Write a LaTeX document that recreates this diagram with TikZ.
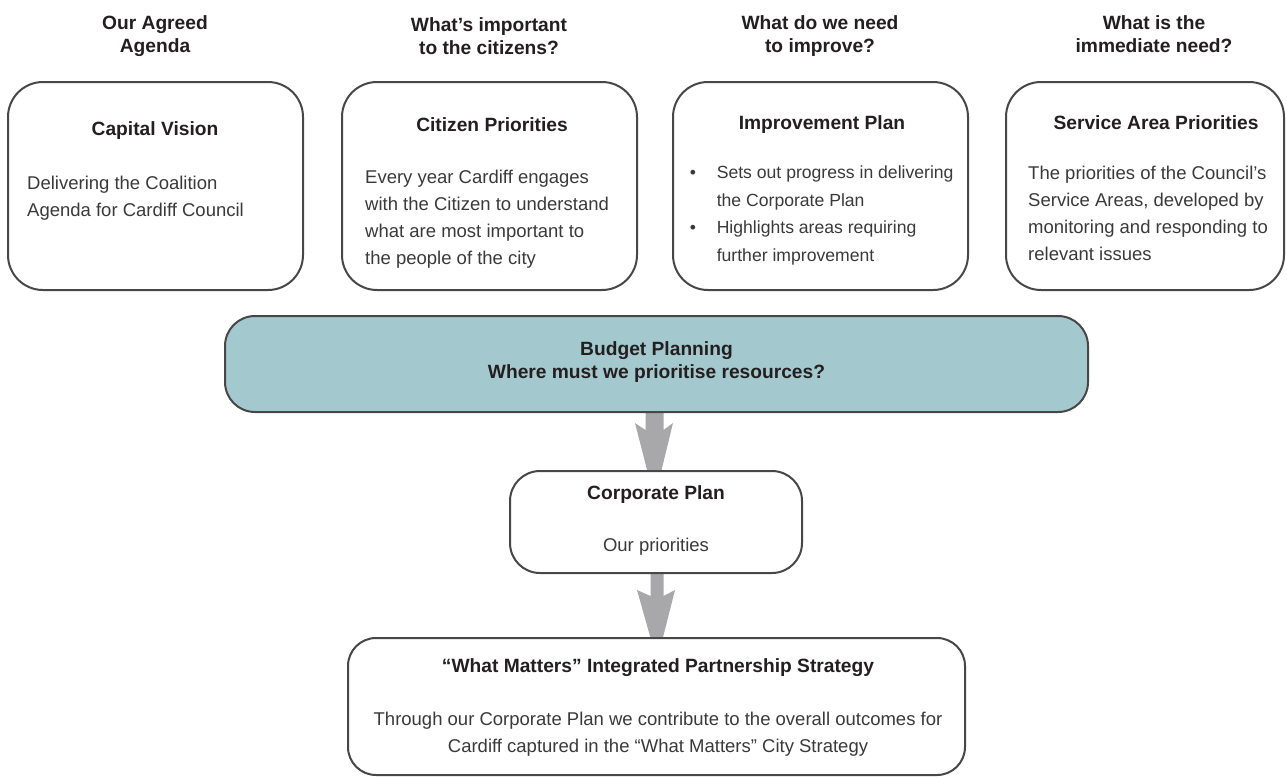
\documentclass[tikz,border=0pt]{standalone}
\usepackage{fontspec}
\setmainfont{Liberation Sans}
\usetikzlibrary{calc}
\definecolor{ink}{HTML}{231F20}
\definecolor{bodyink}{HTML}{3A3A3A}
\definecolor{frame}{HTML}{474747}
\definecolor{budgetfill}{HTML}{A3C9CF}
\definecolor{arrowgrey}{HTML}{A8A8AB}
\tikzset{
  panel/.style={draw=frame, line width=2pt, fill=white, rounded corners=35pt, inner sep=0pt},
  heading/.style={font=\fontsize{19.2}{23}\selectfont\bfseries, text=ink, align=center, inner sep=0pt, anchor=north},
  title/.style={font=\fontsize{19.2}{23}\selectfont\bfseries, text=ink, align=center, inner sep=0pt, anchor=north},
  body/.style={font=\fontsize{18.5}{27}\selectfont, text=bodyink, align=left, inner sep=0pt, anchor=north west},
  narrowbody/.style={body, font=\fontsize{17.6}{27.5}\selectfont},
  cbody/.style={body, align=center, anchor=north},
  flow/.style={fill=arrowgrey},
}
\newcommand{\bulletitem}{\llap{\makebox[27pt][l]{\textbullet}}}
\begin{document}
\begin{tikzpicture}[x=1pt,y=-1pt]
\useasboundingbox (0,0) rectangle (1287,777);

% column headings
\node[heading] (h1) at (155,15)  {Our Agreed\\Agenda};
\node[heading] (h2) at (489,17)  {What’s important\\to the citizens?};
\node[heading] (h3) at (820,15)  {What do we need\\to improve?};
\node[heading] (h4) at (1154,15) {What is the\\immediate need?};

% the four input panels
\node[panel, minimum width=295pt, minimum height=208pt] (vision)  at (155.5,186) {};
\node[panel, minimum width=295pt, minimum height=208pt] (citizen) at (489.5,186) {};
\node[panel, minimum width=295pt, minimum height=208pt] (improve) at (820.5,186) {};
\node[panel, minimum width=278pt, minimum height=208pt] (service) at (1145,186) {};

\node[title] (visionT)  at (155,121.5)  {Capital Vision};
\node[title] (citizenT) at (492,117.5)  {Citizen Priorities};
\node[title] (improveT) at (822,115.5)  {Improvement Plan};
\node[title] (serviceT) at (1156,115.5) {Service Area Priorities};

\node[body] (visionB) at (27,176) {Delivering the Coalition\\Agenda for Cardiff Council};
\node[body] (citizenB) at (365,169.5) {Every year Cardiff engages\\with the Citizen to understand\\what are most important to\\the people of the city};
\node[narrowbody] (improveB) at (716.6,166) {\bulletitem Sets out progress in delivering\\the Corporate Plan\\\bulletitem Highlights areas requiring\\further improvement};
\node[body] (serviceB) at (1028,166) {The priorities of the Council’s\\Service Areas, developed by\\monitoring and responding to\\relevant issues};

% downward flow arrows (drawn first so the panels cover their ends)
\coordinate (a1) at (654.5,412);
\fill[flow] ($(a1)+(-9,-3)$) -- ($(a1)+(-9,18)$) -- ($(a1)+(-19.5,11)$) -- ($(a1)+(0,87)$)
  -- ($(a1)+(18.5,11)$) -- ($(a1)+(9,18)$) -- ($(a1)+(9,-3)$) -- cycle;
\coordinate (a2) at (657,573);
\fill[flow] ($(a2)+(-6.5,-3)$) -- ($(a2)+(-6.5,23)$) -- ($(a2)+(-20,17)$) -- ($(a2)+(0,88)$)
  -- ($(a2)+(18,17)$) -- ($(a2)+(6.5,23)$) -- ($(a2)+(6.5,-3)$) -- cycle;

% budget planning band
\node[panel, fill=budgetfill, rounded corners=30pt, minimum width=863pt, minimum height=96pt] (budget) at (656.5,364) {};
\node[title] (budgetT) at (656.5,341.5) {Budget Planning\\Where must we prioritise resources?};

% corporate plan
\node[panel, rounded corners=30pt, minimum width=292pt, minimum height=102pt] (corp) at (656,522) {};
\node[title] (corpT) at (656,485.5) {Corporate Plan};
\node[cbody] (corpB) at (656,537.5) {Our priorities};

% partnership strategy
\node[panel, rounded corners=28pt, minimum width=617pt, minimum height=137pt] (matters) at (656.5,706.5) {};
\node[title] (mattersT) at (658,658.5) {“What Matters” Integrated Partnership Strategy};
\node[cbody] (mattersB) at (658,711.5) {Through our Corporate Plan we contribute to the overall outcomes for\\Cardiff captured in the “What Matters” City Strategy};
\end{tikzpicture}
\end{document}
